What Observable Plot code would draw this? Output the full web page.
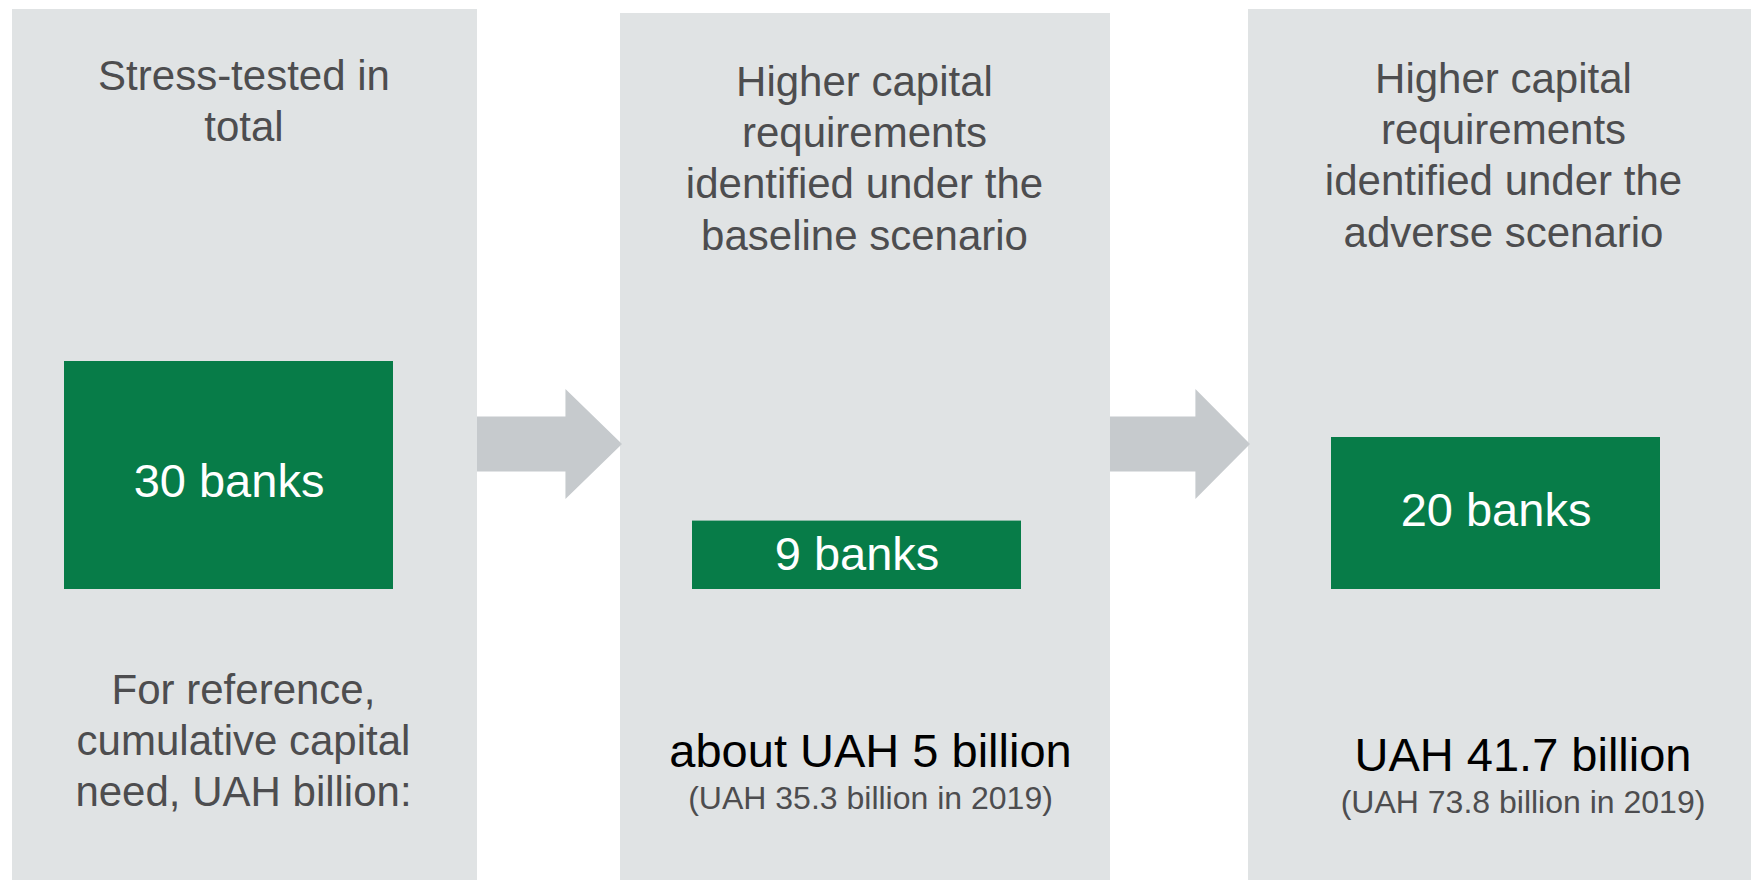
<!DOCTYPE html>
<html><head><meta charset="utf-8">
<script src="https://cdn.jsdelivr.net/npm/d3@7"></script>
<script src="https://cdn.jsdelivr.net/npm/@observablehq/plot@0.6"></script>
<style>html,body{margin:0;padding:0;background:#fff;overflow:hidden}</style>
</head><body><div id="chart"></div>
<script>
// ---- data ----
const categories = ["Stress-tested in total", "Baseline scenario", "Adverse scenario"];
const titles = [
  "Stress-tested in\ntotal",
  "Higher capital\nrequirements\nidentified under the\nbaseline scenario",
  "Higher capital\nrequirements\nidentified under the\nadverse scenario"
];
const banks = [30, 9, 20];
const capitalNeed = [null, 5, 41.7];
const capitalNeedPrefix = ["", "about ", ""];
const capitalNeed2019 = [null, 35.3, 73.8];
const referenceNote = "For reference,\ncumulative capital\nneed, UAH billion:";

// ---- layout (pixels, styling only) ----
const W = 1751, H = 880;
const L = {
  step: 633, origin: 228.5, pxPerBank: 7.6, zeroPx: 589,
  panel: [[-216.5, 248.5], [-241.5, 248.5], [-246.5, null]],
  panelTop: [9, 13, 9],
  barHalf: 164.5, barShift: [0, -5, 1], labelDy: [6, 0, -3],
  titleShift: [15, 2.5, 8.5], titleBase: [89, 95, 92],
  noteShift: 14.5, noteBase: 703,
  amountShift: [0, 8.5, 28], amountBase: [0, 766, 770],
  priorBase: [0, 808, 812],
  arrowMidPx: 444, arrowShaftHalf: 27.5, arrowHeadHalf: 55, arrowNeck: 0.61
};
const fsTitle = 42, fsBank = 47, fsAmount = 47, fsPrior = 32, lh = 1.225;
const gray = "#4d4d4f", green = "#077c48", panelFill = "#e0e3e4", arrowFill = "#c6cacd";
const font = "'Liberation Sans', Arial, Helvetica, sans-serif";

const xDomain = [-L.origin / L.step, (W - L.origin) / L.step];
const yDomain = [-(H - L.zeroPx) / L.pxPerBank, L.zeroPx / L.pxPerBank];
const ux = px => px / L.step;                      // pixel offset -> category units
const yAtPx = p => (L.zeroPx - p) / L.pxPerBank;   // pixel row -> bank units
const topFor = (base, fs) => yAtPx(base - 0.71 * lh * fs); // for lineAnchor top

const rows = categories.map((c, i) => ({
  i, cat: c, title: titles[i], banks: banks[i],
  need: capitalNeed[i], prefix: capitalNeedPrefix[i], need2019: capitalNeed2019[i]
}));
const panelX1 = i => i + ux(L.panel[i][0]);
const panelX2 = i => L.panel[i][1] == null ? xDomain[1] : i + ux(L.panel[i][1]);

// arrows between consecutive panels
const arrows = [];
for (let i = 0; i < rows.length - 1; i++) {
  const s = panelX2(i), e = panelX1(i + 1) + ux(2);
  const n = s + (e - s) * L.arrowNeck;
  const m = yAtPx(L.arrowMidPx), sh = L.arrowShaftHalf / L.pxPerBank, hh = L.arrowHeadHalf / L.pxPerBank;
  arrows.push({k: i, x: s, y1: m - sh, y2: m + sh});
  arrows.push({k: i, x: n, y1: m - sh, y2: m + sh});
  arrows.push({k: i, x: n, y1: m - hh, y2: m + hh});
  arrows.push({k: i, x: e, y1: m, y2: m});
}

const withNeed = rows.filter(d => d.need != null);

const chart = Plot.plot({
  width: W, height: H,
  marginTop: 0, marginBottom: 0, marginLeft: 0, marginRight: 0,
  x: {type: "linear", domain: xDomain, axis: null},
  y: {type: "linear", domain: yDomain, axis: null},
  style: {background: "white", fontFamily: font},
  marks: [
    Plot.rect(rows, {x1: d => panelX1(d.i), x2: d => panelX2(d.i), y1: yDomain[0], y2: d => yAtPx(L.panelTop[d.i]), fill: panelFill}),
    Plot.areaY(arrows, {x: "x", y1: "y1", y2: "y2", z: "k", fill: arrowFill, curve: "linear"}),
    Plot.rect(rows, {x1: d => d.i + ux(L.barShift[d.i] - L.barHalf), x2: d => d.i + ux(L.barShift[d.i] + L.barHalf), y1: 0, y2: "banks", fill: green}),
    Plot.text(rows, {x: d => d.i + ux(L.barShift[d.i]), y: d => d.banks / 2 - L.labelDy[d.i] / L.pxPerBank, text: d => `${d.banks} banks`, fill: "white", fontSize: fsBank, lineAnchor: "middle", lineHeight: 1}),
    Plot.text(rows, {x: d => d.i + ux(L.titleShift[d.i]), y: d => topFor(L.titleBase[d.i], fsTitle), text: "title", fill: gray, fontSize: fsTitle, lineAnchor: "top", lineHeight: lh}),
    Plot.text([referenceNote], {x: ux(L.noteShift), y: topFor(L.noteBase, fsTitle), text: d => d, fill: gray, fontSize: fsTitle, lineAnchor: "top", lineHeight: lh}),
    Plot.text(withNeed, {x: d => d.i + ux(L.amountShift[d.i]), y: d => topFor(L.amountBase[d.i], fsAmount), text: d => `${d.prefix}UAH ${d.need} billion`, fill: "#000", fontSize: fsAmount, lineAnchor: "top", lineHeight: lh}),
    Plot.text(withNeed, {x: d => d.i + ux(L.amountShift[d.i]), y: d => topFor(L.priorBase[d.i], fsPrior), text: d => `(UAH ${d.need2019} billion in 2019)`, fill: gray, fontSize: fsPrior, lineAnchor: "top", lineHeight: lh})
  ]
});
document.getElementById("chart").appendChild(chart);
</script>
</body></html>
